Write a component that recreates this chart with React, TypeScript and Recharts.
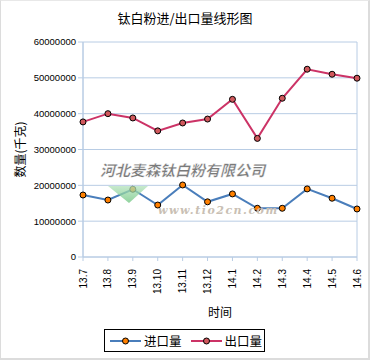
import React from 'react';
import { LineChart, Line, XAxis, YAxis, CartesianGrid } from 'recharts';

// months on the x axis
const months = ['13.7', '13.8', '13.9', '13.10', '13.11', '13.12', '14.1', '14.2', '14.3', '14.4', '14.5', '14.6'];
// import / export volume (kg)
const importQty = [17300000, 15900000, 18900000, 14500000, 20100000, 15400000, 17600000, 13600000, 13600000, 19000000, 16400000, 13400000];
const exportQty = [37700000, 40000000, 38800000, 35200000, 37400000, 38500000, 44000000, 33100000, 44300000, 52400000, 51000000, 49900000];
const yTicks = [0, 10000000, 20000000, 30000000, 40000000, 50000000, 60000000];

const seriesNames = ['进口量', '出口量'];
const lineColors = ['#4a7ebb', '#cc3366'];
const dotColors = ['#ff8000', '#d0585c'];

const data = months.map((m, i) => ({ month: m, imp: importQty[i], exp: exportQty[i] }));

const gridColor = '#b8cce4';
const font = '"Liberation Sans", Arial, sans-serif';
const cjk = '"Noto Sans CJK SC", sans-serif';

const MonthTick = (props: any) => {
  const { x, y, payload } = props;
  return (
    <g transform={`translate(${x},${y})`}>
      <text transform="rotate(-90)" x={-6} y={0} dy="0.35em" textAnchor="end" fontSize={10} fontFamily={font} fill="#000">
        {payload.value}
      </text>
    </g>
  );
};

const App = () => {
  return (
    <div style={{ position: 'absolute', left: 0, top: 0, width: 370, height: 360, background: '#fff' }}>
      <div style={{ position: 'absolute', left: 0, top: 8, width: 370, textAlign: 'center', fontFamily: cjk, fontSize: 13, color: '#000' }}>
        钛白粉进/出口量线形图
      </div>
      <LineChart width={370} height={360} data={data} margin={{ top: 42, right: 13, bottom: 0, left: 0 }}>
        <CartesianGrid
          stroke={gridColor}
          verticalCoordinatesGenerator={({ offset }: any) => [offset.left, offset.left + offset.width]}
        />
        <XAxis
          dataKey="month"
          height={103}
          interval={0}
          stroke={gridColor}
          tickSize={4}
          tick={<MonthTick />}
          label={{
            content: ({ viewBox }: any) => (
              <text x={viewBox.x + viewBox.width / 2} y={viewBox.y + 60} textAnchor="middle" fontSize={12} fontFamily={cjk} fill="#000">
                时间
              </text>
            ),
          }}
        />
        <YAxis
          width={83}
          domain={[0, 60000000]}
          ticks={yTicks}
          interval={0}
          stroke={gridColor}
          tickSize={5}
          tickFormatter={(v: number) => String(v)}
          tick={{ fontSize: 9.5, fontFamily: font, fill: '#000' }}
          label={{
            content: ({ viewBox }: any) => (
              <text
                transform={`translate(${viewBox.x + 21},${viewBox.y + viewBox.height / 2}) rotate(-90)`}
                textAnchor="middle"
                dy="0.35em"
                fontSize={12}
                fontFamily={cjk}
                fill="#000"
              >
                数量(千克)
              </text>
            ),
          }}
        />
        <Line
          dataKey="imp"
          name={seriesNames[0]}
          stroke={lineColors[0]}
          strokeWidth={2}
          dot={{ r: 3, fill: dotColors[0], stroke: '#000', strokeWidth: 1 }}
          isAnimationActive={false}
        />
        <Line
          dataKey="exp"
          name={seriesNames[1]}
          stroke={lineColors[1]}
          strokeWidth={2}
          dot={{ r: 3, fill: dotColors[1], stroke: '#000', strokeWidth: 1 }}
          isAnimationActive={false}
        />
      </LineChart>

      {/* watermark */}
      <svg width={370} height={360} style={{ position: 'absolute', left: 0, top: 0, pointerEvents: 'none' }}>
        <defs>
          <linearGradient id="wmg" x1="0" y1="0" x2="0" y2="1">
            <stop offset="0%" stopColor="#b4e2bc" stopOpacity={0.75} />
            <stop offset="100%" stopColor="#6cc47e" stopOpacity={0.75} />
          </linearGradient>
        </defs>
        <polygon points="108,186 148,186 129,203" fill="url(#wmg)" />
        <text x={100} y={176} fontSize={15} fontStyle="italic" fontWeight="bold" fontFamily={cjk} fill="#7a7a7a" stroke="#fff" strokeWidth={0.3}>
          河北麦森钛白粉有限公司
        </text>
        <text x={158} y={214} fontSize={11} fontStyle="italic" fontWeight="bold" fontFamily='"DejaVu Serif", serif' fill="#c9bfb4" letterSpacing={1.5}>
          www.tio2cn.com
        </text>
      </svg>

      {/* legend */}
      <div
        style={{
          position: 'absolute',
          left: 104,
          top: 329,
          width: 161,
          height: 23,
          boxSizing: 'border-box',
          border: '1px solid #000',
          display: 'flex',
          alignItems: 'center',
          fontFamily: cjk,
          fontSize: 12.5,
          color: '#000',
          whiteSpace: 'nowrap',
        }}
      >
        {seriesNames.map((n, i) => (
          <div key={n} style={{ display: 'flex', alignItems: 'center', flexShrink: 0, marginLeft: i === 0 ? 5 : 9 }}>
            <svg width={31} height={12} style={{ flexShrink: 0 }}>
              <line x1={0} y1={6} x2={31} y2={6} stroke={lineColors[i]} strokeWidth={2} />
              <circle cx={15.5} cy={6} r={3} fill={dotColors[i]} stroke="#000" strokeWidth={1} />
            </svg>
            <span style={{ marginLeft: 3, lineHeight: '14px' }}>{n}</span>
          </div>
        ))}
      </div>

      <div
        style={{
          position: 'absolute',
          left: 0,
          top: 0,
          width: 370,
          height: 360,
          boxSizing: 'border-box',
          borderLeft: '1px solid #dcdcdc',
          borderTop: '1px solid #e8e8e8',
          borderRight: '2px solid #dcdcdc',
          borderBottom: '2px solid #dcdcdc',
          pointerEvents: 'none',
        }}
      />
    </div>
  );
};

export default App;
